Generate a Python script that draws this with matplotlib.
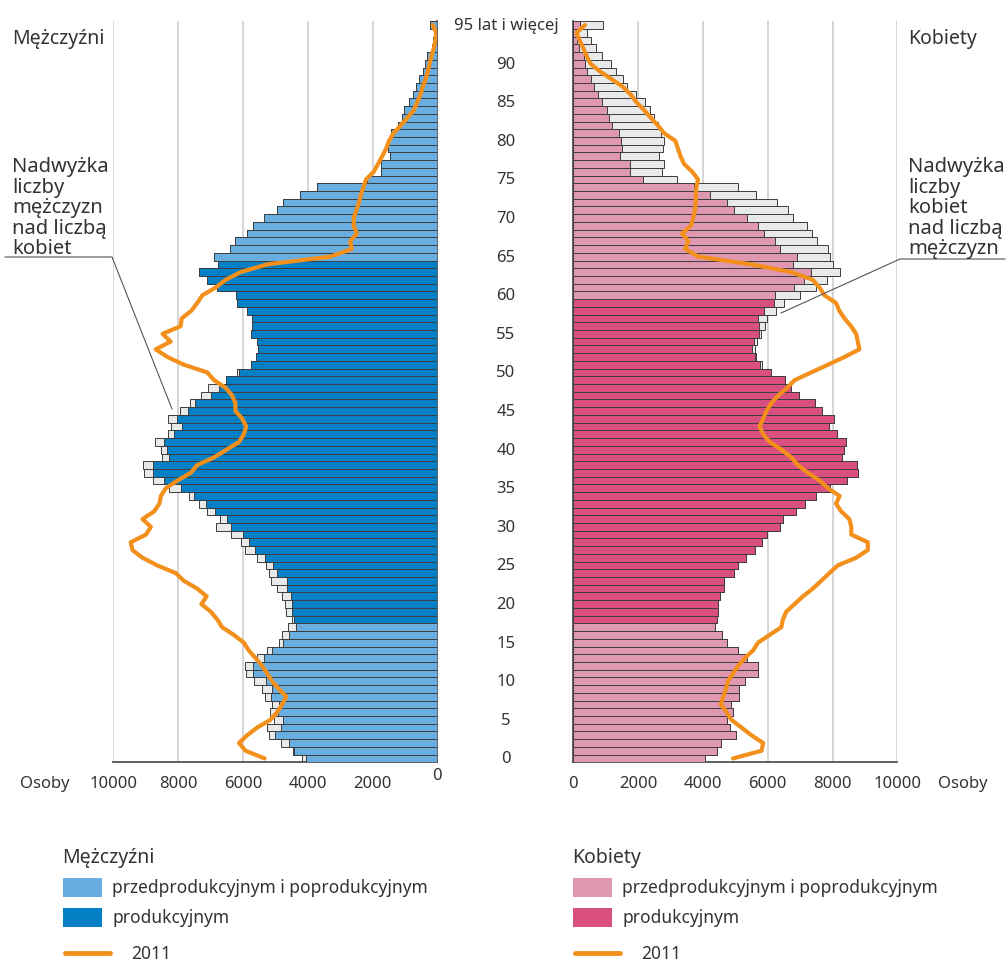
import numpy as np
import matplotlib
matplotlib.use("Agg")
import matplotlib.pyplot as plt
import matplotlib.transforms as mtransforms
from matplotlib.lines import Line2D
from matplotlib.patches import Rectangle

plt.rcParams["font.family"] = ["Noto Sans", "DejaVu Sans"]

# --- data: persons by single year of age (0 .. 95 and more) ---
ages = np.arange(96)
age_ticks = [0, 5, 10, 15, 20, 25, 30, 35, 40, 45, 50, 55, 60, 65, 70, 75, 80, 85, 90]
top_label = "95 lat i więcej"

men = [4170, 4450, 4810, 5200, 5250, 5030, 5170, 5100, 5330, 5410,
       5660, 5900, 5940, 5580, 5250, 4890, 4790, 4610, 4480, 4660,
       4710, 4790, 4940, 5130, 5180, 5280, 5560, 5920, 6070, 6380,
       6840, 6710, 7100, 7370, 7660, 8280, 8760, 9050, 9070, 8500,
       8530, 8710, 8300, 8210, 8300, 7950, 7640, 7280, 7090, 6520,
       6170, 5750, 5610, 5530, 5580, 5740, 5730, 5710, 5880, 6180,
       6210, 6800, 7120, 7340, 6780, 6890, 6390, 6240, 5880, 5700,
       5350, 4960, 4750, 4230, 3720, 2160, 1740, 1750, 1450, 1510,
       1480, 1420, 1200, 1090, 1030, 880, 750, 650, 550, 430,
       370, 320, 175, 125, 110, 220]

women = [4060, 4420, 4570, 5010, 4830, 4750, 4930, 4880, 5120, 5110,
         5290, 5700, 5700, 5360, 5090, 4750, 4590, 4370, 4420, 4470,
         4470, 4520, 4640, 4650, 4950, 5070, 5320, 5620, 5810, 5990,
         6370, 6480, 6860, 7140, 7500, 7920, 8450, 8790, 8760, 8290,
         8340, 8420, 8140, 7880, 8040, 7680, 7470, 6970, 6730, 6520,
         6110, 5820, 5640, 5600, 5670, 5790, 5910, 5980, 6270, 6500,
         7000, 7480, 7830, 8230, 8010, 7930, 7860, 7520, 7360, 7210,
         6780, 6630, 6290, 5650, 5070, 3200, 2740, 2800, 2640, 2780,
         2790, 2700, 2600, 2490, 2360, 2210, 1920, 1660, 1540, 1330,
         1170, 890, 700, 560, 430, 920]

men_2011 = [5330, 5920, 6120, 5870, 5560, 5150, 4940, 4790, 4660, 4890,
            5100, 5250, 5410, 5610, 5820, 5970, 6280, 6640, 6790, 6990,
            7280, 7120, 7410, 7820, 8070, 8640, 9100, 9410, 9460, 8990,
            8840, 9100, 8740, 8580, 8530, 8380, 8020, 7610, 7410, 6890,
            6500, 6120, 5970, 5900, 6020, 6230, 6230, 6330, 6530, 6890,
            7100, 7820, 8330, 8690, 8230, 8480, 7920, 7890, 7590, 7410,
            7250, 6840, 6530, 6070, 5250, 3300, 2640, 2690, 2480, 2580,
            2580, 2500, 2420, 2360, 2280, 2200, 1960, 1830, 1700, 1580,
            1490, 1350, 1130, 920, 720, 620, 520, 450, 360, 290,
            235, 180, 110, 60, 35, 140]

women_2011 = [4930, 5810, 5860, 5500, 5190, 4880, 4730, 4550, 4630, 4710,
              4770, 4930, 5090, 5290, 5550, 5700, 6060, 6420, 6470, 6570,
              6830, 7090, 7390, 7650, 7900, 8160, 8730, 9090, 9090, 8580,
              8580, 8520, 8270, 8110, 8220, 7860, 7600, 7240, 6930, 6730,
              6420, 6060, 5860, 5750, 5860, 5960, 6110, 6320, 6600, 6830,
              7340, 7860, 8370, 8830, 8780, 8730, 8570, 8370, 8210, 8110,
              7750, 7600, 7390, 6730, 5500, 3860, 3450, 3550, 3360, 3630,
              3700, 3750, 3780, 3780, 3800, 3850, 3670, 3420, 3310, 3230,
              3150, 2800, 2610, 2390, 2180, 1950, 1770, 1530, 1180, 820,
              530, 410, 310, 200, 100, 360]

x_ticks = [0, 2000, 4000, 6000, 8000, 10000]

# --- styles ---
c_blue_light = "#68aee0"
c_blue_dark = "#0580c6"
c_pink_light = "#e097b1"
c_pink_dark = "#d84f80"
c_surplus = "#e8eae9"
c_edge = "#3d3d3d"
c_orange = "#f3901c"
c_text = "#333333"
c_grid = "#d2d2d2"

W, H = 1008, 962
fig = plt.figure(figsize=(W / 100, H / 100), dpi=100)


def rect(x0, y0, x1, y1):
    return [x0 / W, 1 - y1 / H, (x1 - x0) / W, (y1 - y0) / H]


def fx(x):
    return x / W


def fy(y):
    return 1 - y / H


ax_m = fig.add_axes(rect(113.3, 22.2, 437.3, 763.3))
ax_w = fig.add_axes(rect(573.3, 22.2, 897.3, 763.3))

men = np.array(men)
women = np.array(women)
common = np.minimum(men, women)

men_col = np.where((ages >= 18) & (ages <= 64), c_blue_dark, c_blue_light)
women_col = np.where((ages >= 18) & (ages <= 59), c_pink_dark, c_pink_light)

# men: surplus (white) first, common part on top
ax_m.barh(ages, men, height=1.0, color=c_surplus, edgecolor=c_edge, linewidth=0.7, zorder=2)
ax_m.barh(ages, common, height=1.0, color=men_col, edgecolor=c_edge, linewidth=0.7, zorder=3)
ax_m.plot(men_2011, ages, color=c_orange, lw=3, solid_joinstyle="round",
          solid_capstyle="round", zorder=5)

ax_w.barh(ages, women, height=1.0, color=c_surplus, edgecolor=c_edge, linewidth=0.7, zorder=2)
ax_w.barh(ages, common, height=1.0, color=women_col, edgecolor=c_edge, linewidth=0.7, zorder=3)
ax_w.plot(women_2011, ages, color=c_orange, lw=3, solid_joinstyle="round",
          solid_capstyle="round", zorder=5)

for ax in (ax_m, ax_w):
    ax.set_ylim(-0.5, 95.5)
    ax.set_yticks([])
    ax.grid(axis="x", color=c_grid, lw=1.3)
    ax.set_axisbelow(True)
    ax.tick_params(axis="x", length=0, pad=9, labelsize=12, labelcolor=c_text)
    ax.spines["top"].set_visible(False)
    for s in ax.spines.values():
        s.set_color("#444444")
        s.set_linewidth(1.2)

ax_m.set_xlim(10000, 0)
ax_m.set_xticks(x_ticks[1:])
ax_m.set_xticklabels([str(v) for v in x_ticks[1:]])
ax_m.spines["left"].set_visible(False)
ax_m.text(0, -0.5, "0", transform=ax_m.transData, ha="center", va="top",
          fontsize=12, color=c_text, zorder=6,
          bbox=None).set_position((0, -0.5 - 0.6))

ax_w.set_xlim(0, 10000)
ax_w.set_xticks(x_ticks)
ax_w.set_xticklabels([str(v) for v in x_ticks])
ax_w.spines["right"].set_visible(False)

# age labels in the middle
blend = mtransforms.blended_transform_factory(fig.transFigure, ax_m.transData)
for a in age_ticks:
    fig.text(fx(506), a, str(a), transform=blend, ha="center", va="center",
             fontsize=12, color=c_text)
fig.text(fx(506), 95, top_label, transform=blend, ha="center", va="center",
         fontsize=12, color=c_text)

# axis unit labels
fig.text(fx(20), fy(784), "Osoby", ha="left", va="center", fontsize=12, color=c_text)
fig.text(fx(938), fy(784), "Osoby", ha="left", va="center", fontsize=12, color=c_text)

# panel titles
fig.text(fx(12), fy(44), "Mężczyźni", ha="left", va="baseline", fontsize=14, color=c_text)
fig.text(fx(908), fy(44), "Kobiety", ha="left", va="baseline", fontsize=14, color=c_text)

# surplus annotations
note_m = ["Nadwyżka", "liczby", "mężczyzn", "nad liczbą", "kobiet"]
note_w = ["Nadwyżka", "liczby", "kobiet", "nad liczbą", "mężczyzn"]
for i, (lm, lw_) in enumerate(zip(note_m, note_w)):
    yb = 172 + 20.6 * i
    fig.text(fx(12), fy(yb), lm, ha="left", va="baseline", fontsize=14.5, color=c_text)
    fig.text(fx(908), fy(yb), lw_, ha="left", va="baseline", fontsize=14.5, color=c_text)

fig.add_artist(Line2D([fx(5), fx(112), fx(172)], [fy(258), fy(258), fy(410)],
                      transform=fig.transFigure, color="#555555", lw=0.8))
fig.add_artist(Line2D([fx(1005), fx(900), fx(781)], [fy(260), fy(260), fy(314)],
                      transform=fig.transFigure, color="#555555", lw=0.8))

# legend
def legend_block(x0, title, c_light, c_dark):
    fig.text(fx(x0), fy(863), title, ha="left", va="baseline", fontsize=14, color=c_text)
    fig.add_artist(Rectangle((fx(x0 + 1), fy(898)), 39 / W, 19 / H, transform=fig.transFigure,
                             facecolor=c_light, edgecolor="none"))
    fig.text(fx(x0 + 50), fy(888), "przedprodukcyjnym i poprodukcyjnym", ha="left",
             va="center", fontsize=12.5, color=c_text)
    fig.add_artist(Rectangle((fx(x0 + 1), fy(928)), 39 / W, 19 / H, transform=fig.transFigure,
                             facecolor=c_dark, edgecolor="none"))
    fig.text(fx(x0 + 50), fy(918), "produkcyjnym", ha="left", va="center",
             fontsize=12.5, color=c_text)
    fig.add_artist(Line2D([fx(x0 + 3), fx(x0 + 48)], [fy(954), fy(954)],
                          transform=fig.transFigure, color=c_orange, lw=3.5,
                          solid_capstyle="round"))
    fig.text(fx(x0 + 69), fy(954), "2011", ha="left", va="center", fontsize=12.5, color=c_text)


legend_block(62, "Mężczyźni", c_blue_light, c_blue_dark)
legend_block(572, "Kobiety", c_pink_light, c_pink_dark)

fig.savefig("out.png", dpi=100)
